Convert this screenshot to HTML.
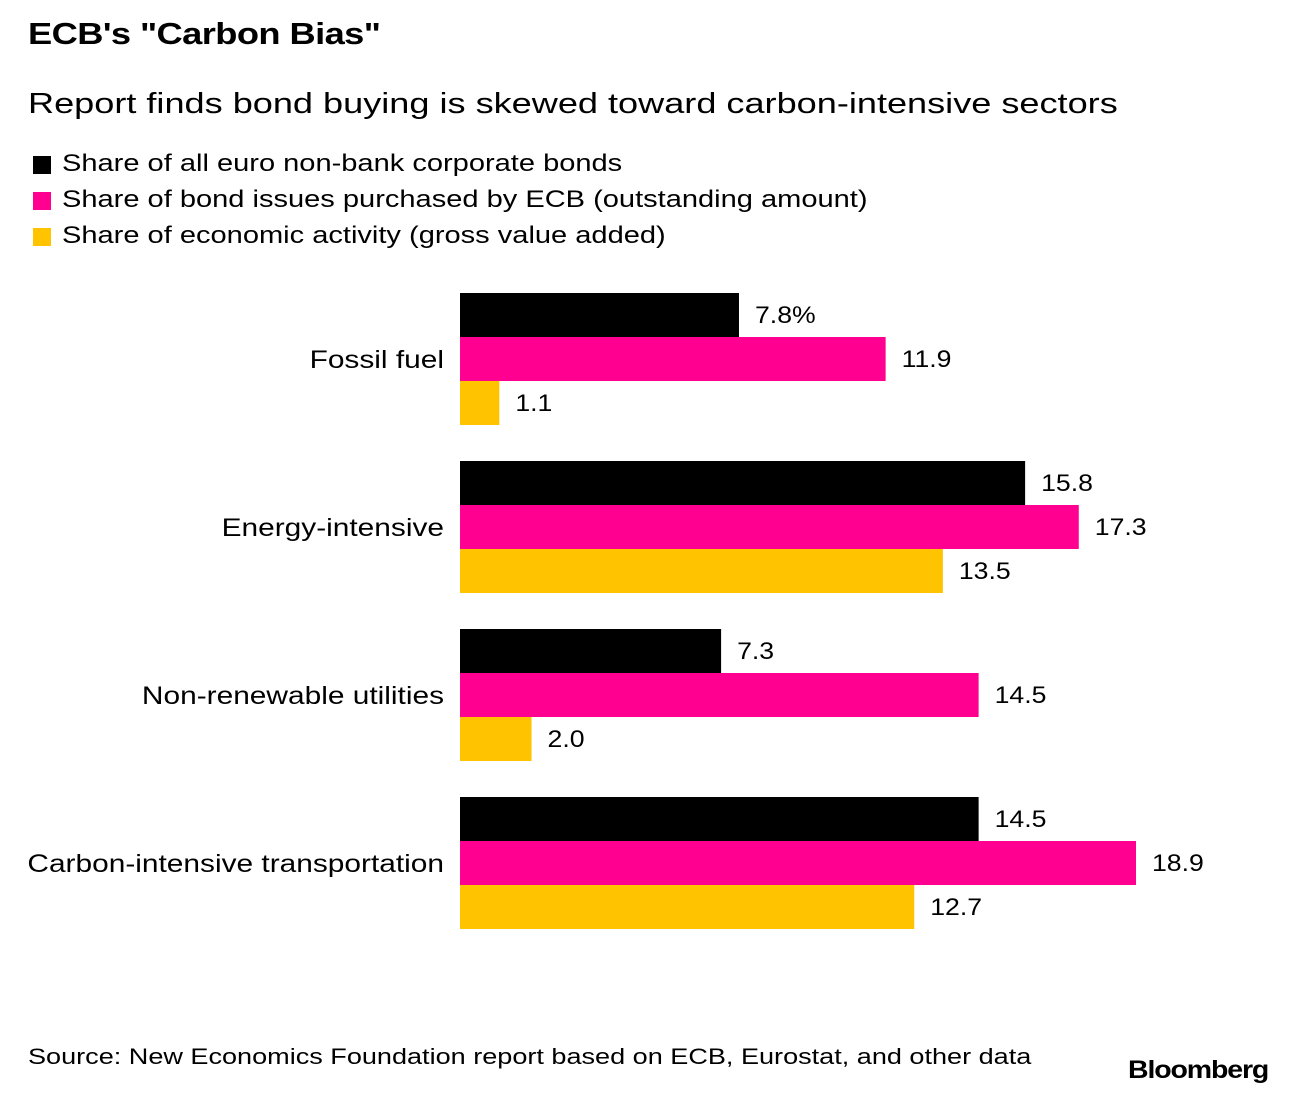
<!DOCTYPE html>
<html><head><meta charset="utf-8">
<style>
body{margin:0;width:1296px;height:1098px;background:#fff;font-family:"Liberation Sans",Arial,sans-serif;color:#000;overflow:hidden;position:relative}
.t{position:absolute;white-space:nowrap;transform-origin:0 50%}
.sq{position:absolute;width:18px;height:18px}
</style></head><body>
<div class="t" style="left:28px;top:16px;font-size:31px;font-weight:bold;letter-spacing:-0.5px;transform:scaleX(1.17)">ECB's "Carbon Bias"</div>
<div class="t" style="left:28px;top:88px;font-size:29px;transform:scaleX(1.245)">Report finds bond buying is skewed toward carbon-intensive sectors</div>
<div>
<div class="sq" style="left:33px;top:156px;background:#000"></div>
<div class="t" style="left:62px;top:150px;font-size:24px;transform:scaleX(1.21)">Share of all euro non-bank corporate bonds</div>
<div class="sq" style="left:33px;top:192px;background:#ff0090"></div>
<div class="t" style="left:62px;top:186px;font-size:24px;transform:scaleX(1.21)">Share of bond issues purchased by ECB (outstanding amount)</div>
<div class="sq" style="left:33px;top:228px;background:#ffc300"></div>
<div class="t" style="left:62px;top:222px;font-size:24px;transform:scaleX(1.21)">Share of economic activity (gross value added)</div>
</div>
<svg id="chart" width="1296" height="1098" style="position:absolute;left:0;top:0"></svg>
<div class="t" style="left:28px;top:1044px;font-size:22px;transform:scaleX(1.23)">Source: New Economics Foundation report based on ECB, Eurostat, and other data</div>
<div class="t" style="left:1128px;top:1056px;font-size:25px;font-weight:bold;letter-spacing:-1px;transform:scaleX(1.14)">Bloomberg</div>
<script>
const categories=["Fossil fuel","Energy-intensive","Non-renewable utilities","Carbon-intensive transportation"];
const bondShare=[7.8,15.8,7.3,14.5];
const ecbShare=[11.9,17.3,14.5,18.9];
const gvaShare=[1.1,13.5,2.0,12.7];
const bondLabels=["7.8%","15.8","7.3","14.5"];
const ecbLabels=["11.9","17.3","14.5","18.9"];
const gvaLabels=["1.1","13.5","2.0","12.7"];
const svg=document.getElementById('chart');
const NS='http://www.w3.org/2000/svg';
const x0=460,pxPer=676/18.9,top0=293,groupStep=168,barH=44;
const xScale=v=>v*pxPer;
const series=[{vals:bondShare,labs:bondLabels,c:"#000",n:"bonds"},{vals:ecbShare,labs:ecbLabels,c:"#ff0090",n:"ecb"},{vals:gvaShare,labs:gvaLabels,c:"#ffc300",n:"gva"}];
categories.forEach((cat,i)=>{
  const gy=top0+i*groupStep;
  const t=document.createElementNS(NS,'text');
  
  
  t.setAttribute('x',0);t.setAttribute('y',0);
  t.setAttribute('transform','translate(444,'+(gy+barH*1.5+9)+') scale(1.195,1)');
  t.setAttribute('text-anchor','end');t.setAttribute('font-size','25');
  t.textContent=cat;svg.appendChild(t);
  series.forEach((s,j)=>{
    const y=gy+j*barH,w=xScale(s.vals[i]);
    const r=document.createElementNS(NS,'rect');
    
    
    r.setAttribute('x',x0);r.setAttribute('y',y);r.setAttribute('width',w);r.setAttribute('height',barH);r.setAttribute('fill',s.c);
    svg.appendChild(r);
    const l=document.createElementNS(NS,'text');
    
    
    l.setAttribute('x',0);l.setAttribute('y',0);
    l.setAttribute('transform','translate('+(x0+w+16)+','+(y+barH/2+8)+') scale(1.11,1)');
    l.setAttribute('font-size','24');
    l.textContent=s.labs[i];svg.appendChild(l);
  });
});
</script>
</body></html>
